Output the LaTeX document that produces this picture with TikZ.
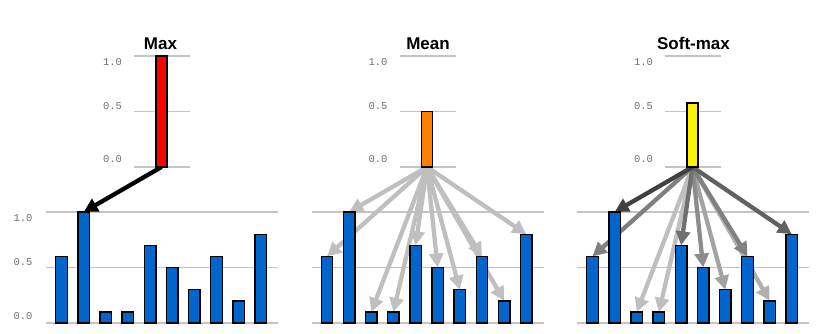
\documentclass[tikz,border=0pt]{standalone}
\usepackage{fontspec}
\setmainfont{Liberation Sans}
\newfontfamily\monof{Liberation Mono}
\usetikzlibrary{arrows.meta}
\pgfdeclarelayer{gridlayer}
\pgfdeclarelayer{arrowlayer}
\pgfsetlayers{gridlayer,arrowlayer,main}
\definecolor{barblue}{HTML}{0066CC}
\definecolor{gridgray}{HTML}{C4C4C4}
\definecolor{labgray}{HTML}{707070}
\definecolor{orangebar}{HTML}{FF8000}
\tikzset{
  bar/.style={draw=black, line width=1.4pt, fill=barblue, inner sep=0pt, outer sep=0pt, minimum width=11.5pt, anchor=south},
  topbar/.style={draw=black, line width=1.4pt, inner sep=0pt, outer sep=0pt, minimum width=11pt, anchor=south},
  gridline/.style={draw=gridgray, line width=1.8pt},
  axlab/.style={font=\monof\fontsize{10.5}{12}\selectfont, text=labgray, inner sep=0pt, anchor=base},
  title/.style={font=\bfseries\fontsize{17}{20}\selectfont, inner sep=0pt, anchor=base},
  conn/.style={line width=4.3pt, -{Triangle[length=14pt,width=14pt]}},
}
\begin{document}
\begin{tikzpicture}[x=1pt,y=-1pt]
\useasboundingbox (0,0) rectangle (830,334);
% grid lines for the three panels
\begin{pgfonlayer}{gridlayer}
\foreach \o in {0,265.5,531}{
  \foreach \y in {56,111.5,167}{\draw[gridline] (134+\o,\y) -- (190+\o,\y);}
  \foreach \y in {212,267.5,323}{\draw[gridline] (46+\o,\y) -- (278+\o,\y);}
}
\end{pgfonlayer}
% axis labels
\foreach \o/\p in {0/p,265.5/q,531/r}{
  \node[axlab] (\p l1) at (112.5+\o,66) {1.0};
  \node[axlab] (\p l2) at (112.5+\o,110) {0.5};
  \node[axlab] (\p l3) at (112.5+\o,162.7) {0.0};
}
\node[axlab] (m1) at (23,221.7) {1.0};
\node[axlab] (m2) at (23,265.7) {0.5};
\node[axlab] (m3) at (23,319) {0.0};
% titles
\node[title] (ttl1) at (160.5,49.3) {Max};
\node[title] (ttl2) at (428,49.3) {Mean};
\node[title] (ttl3) at (693.5,49.3) {Soft-max};
% top bars
\node[topbar, fill=red, minimum height=111pt] (t1) at (161.5,167) {};
\node[topbar, fill=orangebar, minimum height=55.5pt] (t2) at (427,167) {};
\node[topbar, fill=yellow, minimum height=63.8pt] (t3) at (692.5,167) {};
% bottom bars
\foreach \v [count=\i] in {0.6,1.0,0.1,0.1,0.7,0.5,0.3,0.6,0.2,0.8}{
  \node[bar, minimum height=\v*111pt] (a\i) at (61.5+22.14*\i-22.14,323) {};
  \node[bar, minimum height=\v*111pt] (b\i) at (327+22.14*\i-22.14,323) {};
  \node[bar, minimum height=\v*111pt] (c\i) at (592.5+22.14*\i-22.14,323) {};
}
% connectors
\begin{pgfonlayer}{arrowlayer}
\draw[conn, black] (t1.south) -- (a2.north);
\foreach \i in {1,...,10}{\draw[conn, black!25] (t2.south) -- (b\i.north);}
\foreach \i/\k in {3/25,4/25,9/31,7/36,6/45,8/50,1/50,5/56,10/62,2/75}{
  \draw[conn, black!\k] (t3.south) -- (c\i.north);
}
\end{pgfonlayer}
\end{tikzpicture}
\end{document}
